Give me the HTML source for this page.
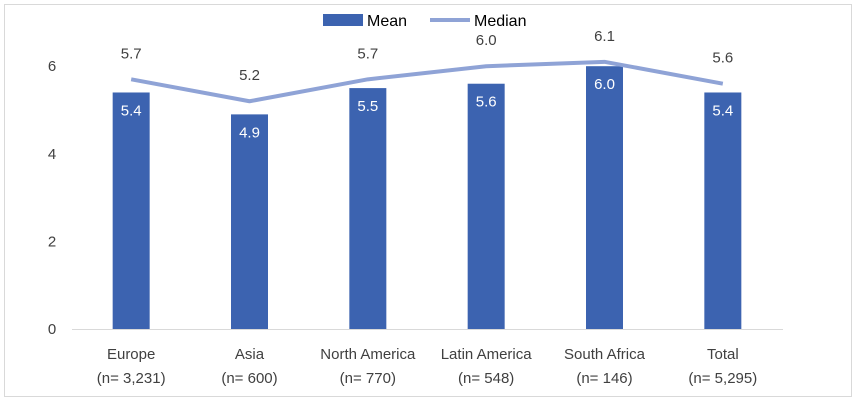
<!DOCTYPE html>
<html><head><meta charset="utf-8"><style>
body{margin:0;background:#fff}
svg{display:block;font-family:"Liberation Sans",sans-serif}
</style></head><body>
<svg id="chart" width="857" height="401">
<rect x="4.5" y="4.5" width="847" height="392" fill="#fff" stroke="#d9d9d9"/>
<g id="legend">
<rect x="323" y="14" width="40" height="12" fill="#3c63b0"/>
<text x="367" y="26" font-size="16" fill="#000">Mean</text>
<line x1="430" y1="20" x2="470" y2="20" stroke="#8fa3d6" stroke-width="4"/>
<text x="474" y="26" font-size="16" fill="#000">Median</text>
</g>
<g id="plot"></g>
</svg>
<script>
const categories=["Europe","Asia","North America","Latin America","South Africa","Total"];
const sampleSizes=["(n= 3,231)","(n= 600)","(n= 770)","(n= 548)","(n= 146)","(n= 5,295)"];
const meanValues=[5.4,4.9,5.5,5.6,6.0,5.4];
const medianValues=[5.7,5.2,5.7,6.0,6.1,5.6];
const yTicks=[0,2,4,6];
const NS="http://www.w3.org/2000/svg";
const g=document.getElementById('plot');
const x0=72,x1=782,y0=329,pxPerUnit=43.8;
const band=(x1-x0)/categories.length;
const xc=i=>x0+band*(i+0.5);
const y=v=>y0-v*pxPerUnit;
function mk(t,a,txt){const e=document.createElementNS(NS,t);for(const k in a)e.setAttribute(k,a[k]);if(txt!==undefined)e.textContent=txt;g.appendChild(e);return e;}
yTicks.forEach(t=>{const e=mk('text',{x:52,y:y(t)+5,'font-size':15,fill:'#404040','text-anchor':'middle'},t);

});
const ax=mk('line',{x1:x0,y1:y0+0.5,x2:x1+1,y2:y0+0.5,stroke:'#d9d9d9','stroke-width':1});


categories.forEach((c,i)=>{
const b=mk('rect',{x:xc(i)-18.5,y:y(meanValues[i]),width:37,height:meanValues[i]*pxPerUnit,fill:'#3c63b0'});


const bl=mk('text',{x:xc(i),y:y(meanValues[i])+23,'font-size':15,fill:'#fff','text-anchor':'middle'},meanValues[i].toFixed(1));


const l1=mk('text',{x:xc(i),y:359,'font-size':15,fill:'#404040','text-anchor':'middle'},c);


const l2=mk('text',{x:xc(i),y:383,'font-size':15,fill:'#404040','text-anchor':'middle'},sampleSizes[i]);


});
const pts=medianValues.map((v,i)=>xc(i)+','+y(v)).join(' ');
const pl=mk('polyline',{points:pts,fill:'none',stroke:'#8fa3d6','stroke-width':4,'stroke-linejoin':'round'});


medianValues.forEach((v,i)=>{
const t=mk('text',{x:xc(i),y:y(v)-21,'font-size':15,fill:'#404040','text-anchor':'middle'},v.toFixed(1));


});
</script>
</body></html>
